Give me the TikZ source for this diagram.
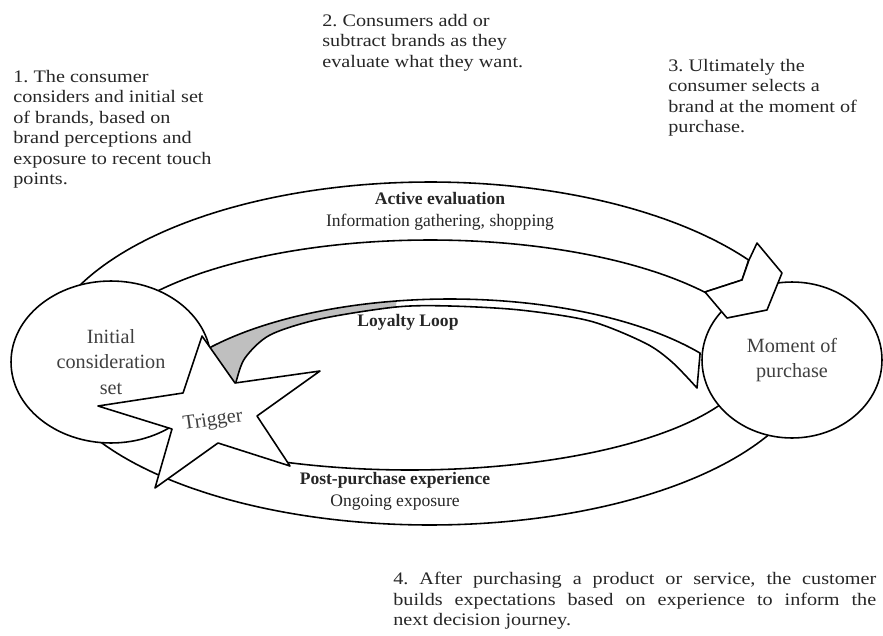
\documentclass[tikz,border=0pt]{standalone}
\usepackage{fontspec}
\setmainfont{Liberation Serif}
\newfontfamily\notefont[FakeStretch=1.15]{Liberation Serif}
\usetikzlibrary{shapes.geometric}
\frenchspacing
\begin{document}
\begin{tikzpicture}[x=0.02cm, y=-0.02cm,
  outline/.style={draw=black, line width=0.9pt, line join=round},
  shapefill/.style={outline, fill=white},
  note/.style={anchor=north west, inner sep=0pt, align=left, text=black!85,
    font=\notefont\fontsize{10}{11.6}\selectfont},
  stagelabel/.style={inner sep=0pt, align=center, text=black!85,
    font=\fontsize{10}{12.5}\selectfont},
  bubble/.style={shapefill, ellipse, inner sep=0pt, align=center, text=black!75,
    font=\fontsize{11.5}{14.5}\selectfont}]
\useasboundingbox (0,0) rectangle (883,636);

% active evaluation band across the top
\path[shapefill] plot[domain=158:35, samples=90] ({430+389*cos(\x)},{365-183*sin(\x)})
  -- (742,280) -- (705,292)
  -- plot[domain=36.7:150, samples=90] ({430+343*cos(\x)},{370-130*sin(\x)}) -- cycle;

% post-purchase band across the bottom
\path[shapefill] plot[domain=-150:-25, samples=90] ({430+385*cos(\x)},{353-172*sin(\x)})
  -- plot[domain=-15:-112.2, samples=90] ({410+344*cos(\x)},{355-115*sin(\x)})
  -- (240,425) -- (170,420) -- cycle;

% loyalty loop ribbon
\path[fill=white] plot[domain=143:35.7, samples=90] ({450+308*cos(\x)},{429-130*sin(\x)})
  -- plot[smooth] coordinates {(697,388) (672,362) (645,343) (590,321) (520,310) (450,306)
     (396,307) (320,319) (270,335) (245,358) (236,382) (234,392)} -- cycle;
\fill[black!25] plot[domain=143:100, samples=60] ({450+308*cos(\x)},{429-130*sin(\x)})
  -- plot[smooth] coordinates {(396,307) (320,319) (270,335) (245,358) (236,382) (234,392)} -- cycle;
\draw[outline] plot[domain=143:35.7, samples=90] ({450+308*cos(\x)},{429-130*sin(\x)})
  -- plot[smooth] coordinates {(697,388) (672,362) (645,343) (590,321) (520,310) (450,306)
     (396,307) (320,319) (270,335) (245,358) (236,382) (234,392)} -- cycle;

% the two stages
\node[bubble, minimum width=4cm, minimum height=3.24cm] (initset) at (111,362)
  {Initial\\consideration\\set};
\node[bubble, minimum width=3.6cm, minimum height=3.12cm] (moment) at (792,360)
  {Moment of\\purchase};

% arrow head of the active evaluation band
\draw[shapefill] (757,243) -- (782,273) -- (767,310) -- (727,318) -- (705,292)
  -- (742,280) -- (749,260) -- cycle;

% trigger star
\draw[shapefill] (202,336) -- (235,383) -- (320,371) -- (257,416) -- (290,466)
  -- (218,443) -- (155,488) -- (172,429) -- (98,406) -- (183,393) -- cycle;
\node[inner sep=0pt, text=black!75, font=\fontsize{11.5}{14}\selectfont, rotate=8]
  (trigger) at (213,421) {Trigger};

% band labels
\node[stagelabel] (active) at (440,211)
  {\textbf{Active evaluation}\\Information gathering, shopping};
\node[stagelabel] (loyal) at (408,322) {\textbf{Loyalty Loop}};
\node[stagelabel] (post) at (395,491)
  {\textbf{Post-purchase experience}\\Ongoing exposure};

% numbered notes
\node[note] (n1) at (13,70) {1. The consumer\\considers and initial set\\of brands, based on\\brand perceptions and\\exposure to recent touch\\points.};
\node[note] (n2) at (322,14) {2. Consumers add or\\subtract brands as they\\evaluate what they want.};
\node[note] (n3) at (668,59) {3. Ultimately the\\consumer selects a\\brand at the moment of\\purchase.};
\node[note, align=justify, text width=9.66cm] (n4) at (393,572)
  {4. After purchasing a product or service, the customer\linebreak
   builds expectations based on experience to inform the\linebreak
   next decision journey.};
\end{tikzpicture}
\end{document}
